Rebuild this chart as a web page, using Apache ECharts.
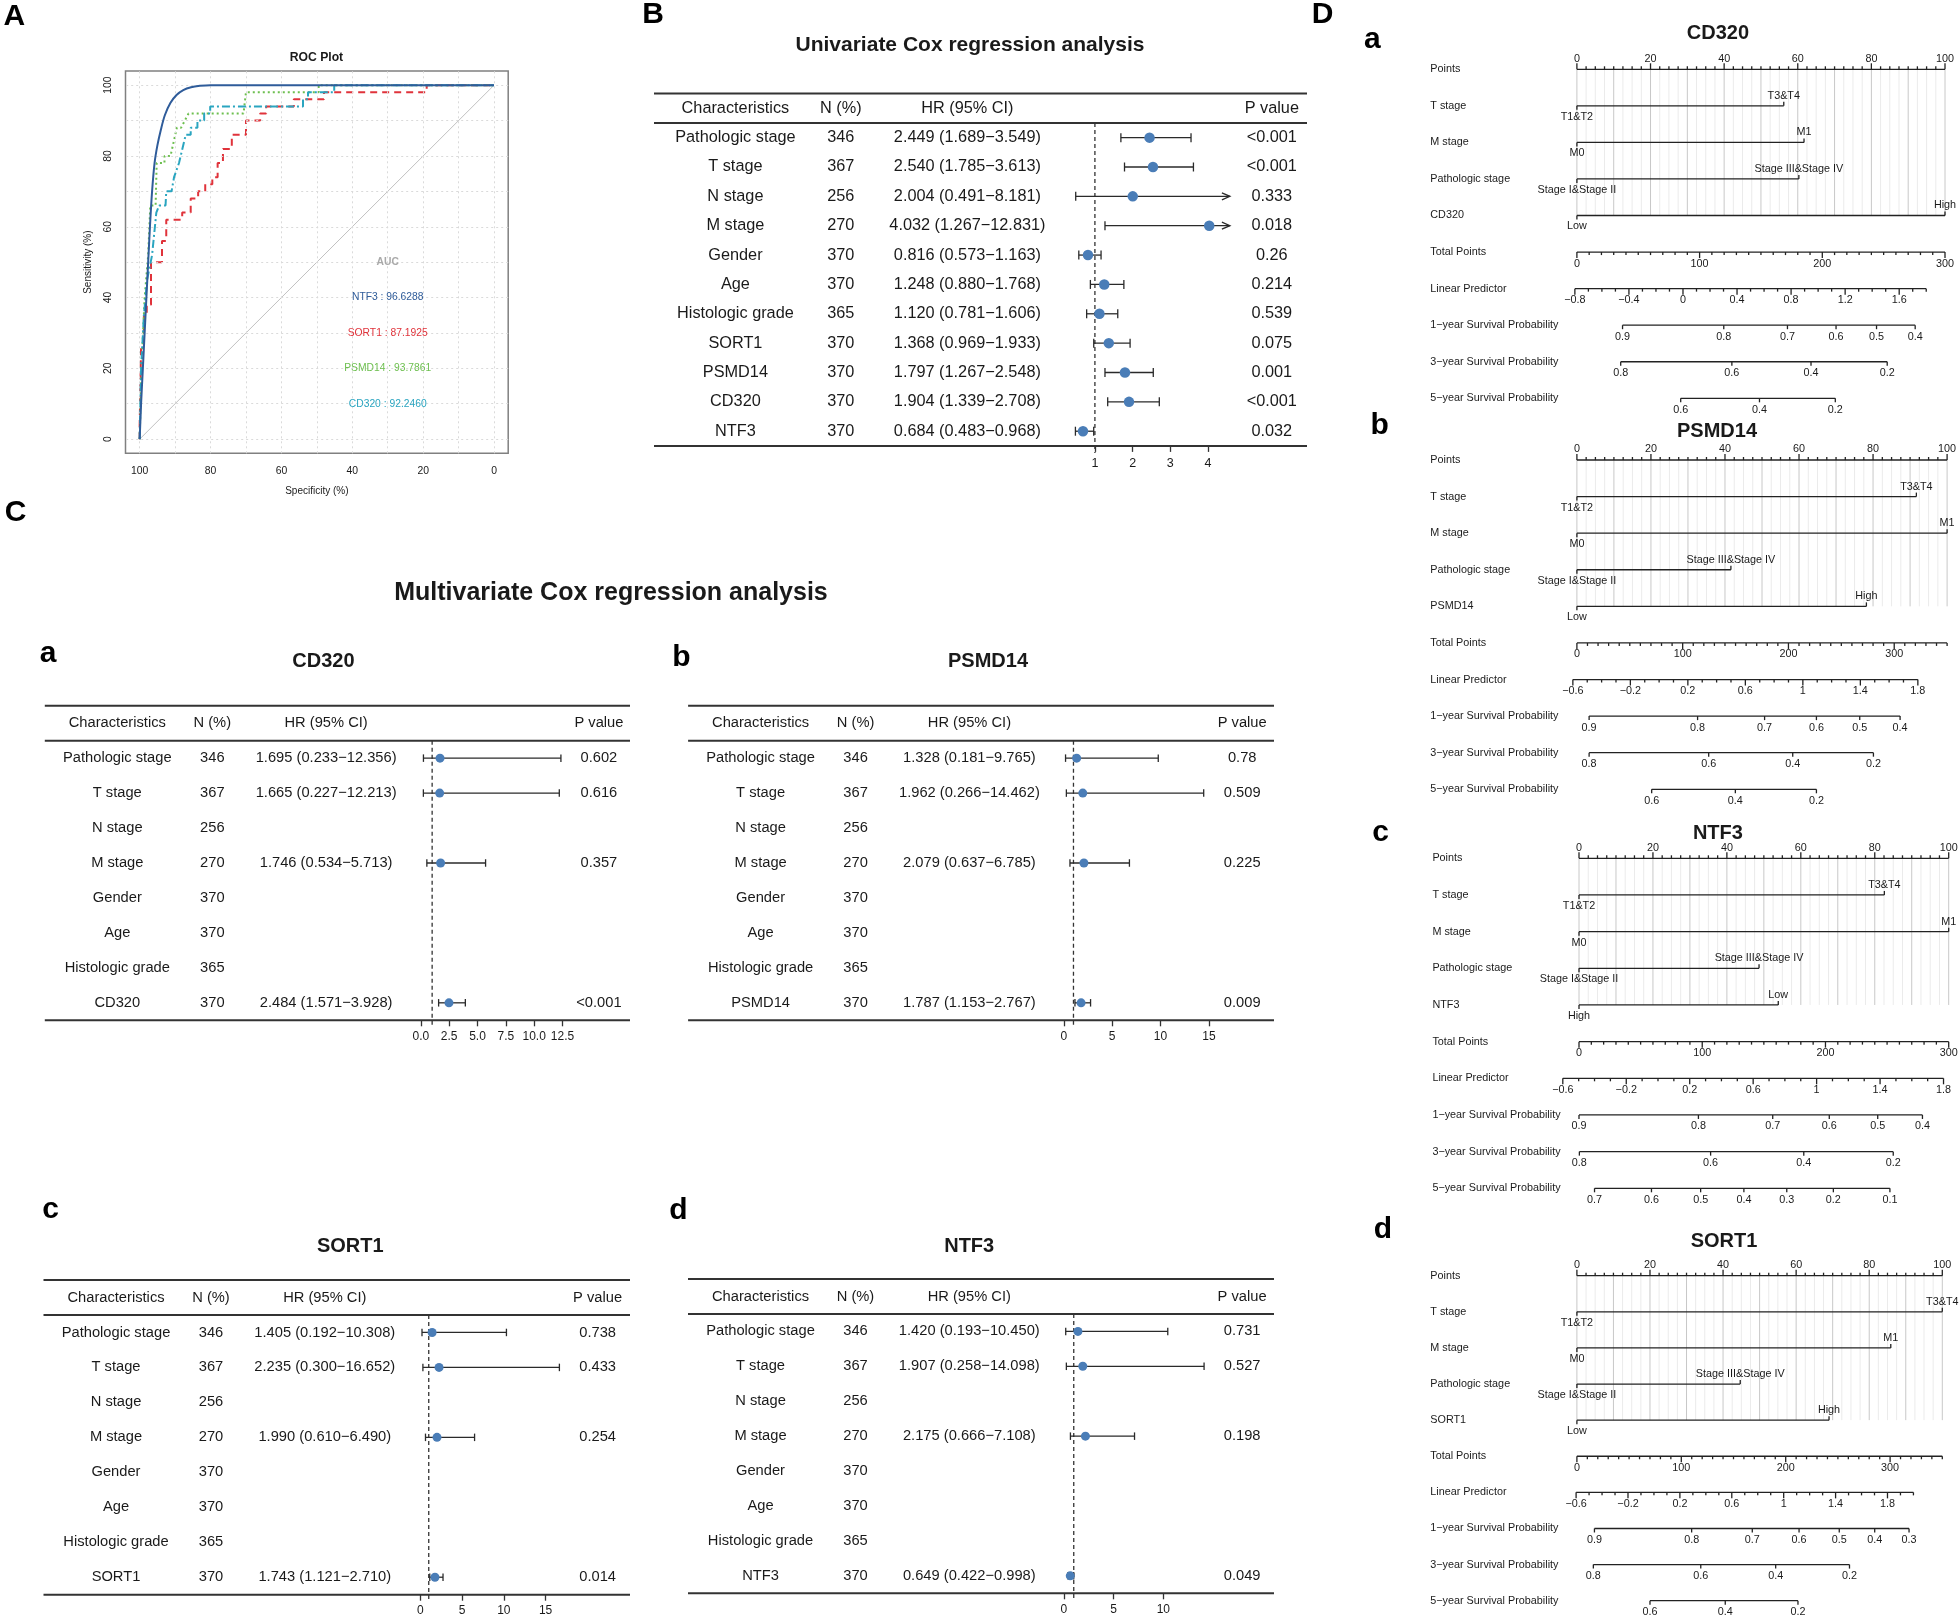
<!DOCTYPE html>
<html><head><meta charset="utf-8">
<script src="https://cdn.jsdelivr.net/npm/echarts@6/dist/echarts.min.js"></script>
<style>html,body{margin:0;padding:0;background:#fff}#c{width:1960px;height:1620px}</style>
</head><body><div id="c"></div>
<script>
// ================= DATA =================
// Panel A: ROC curves, points are [specificity %, sensitivity %]
const rocNames = ['NTF3', 'SORT1', 'PSMD14', 'CD320'];
const rocAUC = ['96.6288', '87.1925', '93.7861', '92.2460'];
const rocNTF3 = [[100,0],[99.6,10],[99.1,20],[98.6,30],[98.1,40],[97.6,50],[97.1,60],[96.5,70],[95.8,78],[95.0,83],[94.0,87.5],[92.9,91.5],[91.3,95],[89.6,97.2],[87.7,98.6],[85.5,99.4],[83,99.8],[80,100],[70,100],[0,100]];
const rocSORT1 = [[100,0],[100,4],[99.6,4],[99.6,26],[98.8,26],[98.8,35],[98,35],[98,38],[96.8,38],[96.8,50],[93.7,50],[93.7,56],[92.5,56],[92.5,62],[88,62],[88,64],[85.6,64],[85.6,68],[83.5,68],[83.5,70],[81.5,70],[81.5,72],[79.5,72],[79.5,74],[78,74],[78,78],[76.5,78],[76.5,82],[74,82],[74,86],[70,86],[70,90],[66,90],[66,92],[64.3,92],[64.3,94],[56.5,94],[56.5,96],[48,96],[48,98],[19,98],[19,100],[0,100]];
const rocPSMD14 = [[100,0],[99.5,20],[98.6,40],[97.6,52],[97,66],[95.5,66],[95.2,78],[93,78],[93,80],[91.3,80],[89.5,88],[88.3,88],[86.2,92],[70.7,92],[70,98],[49.5,98],[49.5,100],[0,100]];
const rocCD320 = [[100,0],[99.6,20],[98.8,35],[97.9,45],[96.5,52],[95.3,64],[94.5,66],[92.7,66],[92.5,70],[91,70],[90.3,74],[88.9,78],[87,86],[85.6,86],[85.6,88],[83.7,88],[83.7,90],[81.8,90],[81.8,92],[80.1,92],[80.1,94],[53.9,94],[53.9,96],[52.5,96],[52.5,98],[45.1,98],[45.1,100],[0,100]];
const rocTicks = [0, 20, 40, 60, 80, 100];
const rocGridVals = [0, 10, 20, 30, 40, 50, 60, 70, 80, 90, 100];

// Table headers
const tableHeaders = ['Characteristics', 'N (%)', 'HR (95% CI)', 'P value'];

// Panel B: univariate Cox
const uniChars = ['Pathologic stage','T stage','N stage','M stage','Gender','Age','Histologic grade','SORT1','PSMD14','CD320','NTF3'];
const uniN = [346, 367, 256, 270, 370, 370, 365, 370, 370, 370, 370];
const uniHR = [2.449, 2.540, 2.004, 4.032, 0.816, 1.248, 1.120, 1.368, 1.797, 1.904, 0.684];
const uniLo = [1.689, 1.785, 0.491, 1.267, 0.573, 0.880, 0.781, 0.969, 1.267, 1.339, 0.483];
const uniHi = [3.549, 3.613, 8.181, 12.831, 1.163, 1.768, 1.606, 1.933, 2.548, 2.708, 0.968];
const uniP = ['<0.001', '<0.001', '0.333', '0.018', '0.26', '0.214', '0.539', '0.075', '0.001', '<0.001', '0.032'];
const uniTicks = [1, 2, 3, 4];

// Panel C: multivariate Cox
const mvChars = ['Pathologic stage','T stage','N stage','M stage','Gender','Age','Histologic grade'];
const mvN = [346, 367, 256, 270, 370, 370, 365, 370];
const mvCD320HR = [1.695, 1.665, null, 1.746, null, null, null, 2.484];
const mvCD320Lo = [0.233, 0.227, null, 0.534, null, null, null, 1.571];
const mvCD320Hi = [12.356, 12.213, null, 5.713, null, null, null, 3.928];
const mvCD320P = ['0.602', '0.616', '', '0.357', '', '', '', '<0.001'];
const mvPSMD14HR = [1.328, 1.962, null, 2.079, null, null, null, 1.787];
const mvPSMD14Lo = [0.181, 0.266, null, 0.637, null, null, null, 1.153];
const mvPSMD14Hi = [9.765, 14.462, null, 6.785, null, null, null, 2.767];
const mvPSMD14P = ['0.78', '0.509', '', '0.225', '', '', '', '0.009'];
const mvSORT1HR = [1.405, 2.235, null, 1.990, null, null, null, 1.743];
const mvSORT1Lo = [0.192, 0.300, null, 0.610, null, null, null, 1.121];
const mvSORT1Hi = [10.308, 16.652, null, 6.490, null, null, null, 2.710];
const mvSORT1P = ['0.738', '0.433', '', '0.254', '', '', '', '0.014'];
const mvNTF3HR = [1.420, 1.907, null, 2.175, null, null, null, 0.649];
const mvNTF3Lo = [0.193, 0.258, null, 0.666, null, null, null, 0.422];
const mvNTF3Hi = [10.450, 14.098, null, 7.108, null, null, null, 0.998];
const mvNTF3P = ['0.731', '0.527', '', '0.198', '', '', '', '0.049'];
const mvTicksCD320 = [0, 2.5, 5, 7.5, 10, 12.5];
const mvTicksPSMD14 = [0, 5, 10, 15];
const mvTicksSORT1 = [0, 5, 10, 15];
const mvTicksNTF3 = [0, 5, 10];

// Panel D: nomograms (CD320, PSMD14, NTF3, SORT1)
const nomoGenes = ['CD320', 'PSMD14', 'NTF3', 'SORT1'];
const nomoVarNames = ['T stage', 'M stage', 'Pathologic stage'];
const nomoTLevels = ['T1&T2', 'T3&T4'];
const nomoMLevels = ['M0', 'M1'];
const nomoPathLevels = ['Stage I&Stage II', 'Stage III&Stage IV'];
const nomoGeneLevels = [['Low','High'], ['Low','High'], ['High','Low'], ['Low','High']];
const nomoTPoints = [56.2, 91.7, 82.6, 100];
const nomoMPoints = [61.7, 100, 100, 85.9];
const nomoPathPoints = [60.3, 41.6, 48.7, 44.7];
const nomoGenePoints = [100, 78.2, 53.9, 69.0];
const nomoTotalMax = [300, 350, 300, 350];
const nomoLPRange = [[-0.8, 1.8], [-0.6, 1.8], [-0.6, 1.8], [-0.6, 2.0]];
const nomoLPAtPoints = [[-0.55, 94.9], [-1.09, 92.1], [-4.38, 98.6], [-0.22, 92.1]];
const nomoLPLabels = [[-0.8,-0.4,0,0.4,0.8,1.2,1.6], [-0.6,-0.2,0.2,0.6,1,1.4,1.8], [-0.6,-0.2,0.2,0.6,1,1.4,1.8], [-0.6,-0.2,0.2,0.6,1,1.4,1.8]];
const nomoSurv1Labels = [[0.9,0.8,0.7,0.6,0.5,0.4], [0.9,0.8,0.7,0.6,0.5,0.4], [0.9,0.8,0.7,0.6,0.5,0.4], [0.9,0.8,0.7,0.6,0.5,0.4,0.3]];
const nomoSurv1Points = [[12.4,39.9,57.2,70.4,81.4,91.9], [3.3,32.6,50.7,64.7,76.4,87.3], [0,32.3,52.4,67.7,80.8,92.9], [4.8,31.4,48.0,60.8,71.8,81.5,90.9]];
const nomoSurv3Labels = [[0.8,0.6,0.4,0.2], [0.8,0.6,0.4,0.2], [0.8,0.6,0.4,0.2], [0.8,0.6,0.4,0.2]];
const nomoSurv3Points = [[11.9,42.1,63.6,84.3], [3.3,35.6,58.3,80.1], [0.1,35.6,60.8,85.0], [4.5,33.9,54.4,74.6]];
const nomoSurv5Labels = [[0.6,0.4,0.2], [0.6,0.4,0.2], [0.7,0.6,0.5,0.4,0.3,0.2,0.1], [0.6,0.4,0.2]];
const nomoSurv5Points = [[28.2,49.6,70.2], [20.2,42.8,64.7], [4.2,19.6,32.9,44.6,56.2,68.8,84.1], [20.0,40.6,60.5]];

// ================= BUILD =================
const FONT = "'Liberation Sans', Arial, Helvetica, sans-serif";
const INK = '#1a1a1a';
const LINE = '#2a2a2a';
const DOT = '#4a7db7';
const grids = [], xAxes = [], yAxes = [], series = [], graphics = [];

function addGrid(g, xa, ya) {
  const i = grids.length;
  grids.push(Object.assign({containLabel: false, outerBoundsMode: 'none'}, g));
  xa.gridIndex = i; ya.gridIndex = i;
  xAxes.push(xa); yAxes.push(ya);
  return i;
}
function ts(t, size, extra) {
  return Object.assign({text: t, fontSize: size, fontFamily: FONT, fill: INK,
    align: 'center', verticalAlign: 'middle', textAlign: 'center', textVerticalAlign: 'middle'}, extra || {});
}
function gtext(t, x, y, size, extra) {
  graphics.push({type: 'text', x: x, y: y, silent: true, z: 100, style: ts(t, size, extra)});
}
const minus = v => String(v).replace('-', '\u2212');

// ---------- Panel A: ROC ----------
const rocGi = addGrid(
  {left: 125.5, top: 71, width: 382.7, height: 382.3, show: true, borderColor: '#808080', borderWidth: 1.5, backgroundColor: 'rgba(0,0,0,0)'},
  {type: 'value', min: -4, max: 104, inverse: true, splitLine: {show: false}, axisLine: {show: false, onZero: false}, axisTick: {show: false},
   axisLabel: {customValues: rocTicks, fontSize: 10.4, color: INK, fontFamily: FONT, margin: 13},
   name: 'Specificity (%)', nameLocation: 'middle', nameGap: 33, nameTextStyle: {fontSize: 10, color: INK, fontFamily: FONT}},
  {type: 'value', min: -4, max: 104, splitLine: {show: false}, axisLine: {show: false, onZero: false}, axisTick: {show: false},
   axisLabel: {customValues: rocTicks, rotate: 90, fontSize: 10.4, color: INK, fontFamily: FONT, margin: 12},
   name: 'Sensitivity (%)', nameLocation: 'middle', nameGap: 32, nameRotate: 90, nameTextStyle: {fontSize: 10, color: INK, fontFamily: FONT}}
);
series.push({type: 'line', xAxisIndex: rocGi, yAxisIndex: rocGi, data: [[100, 0], [0, 100]], symbol: 'none', silent: true, z: 1,
  lineStyle: {color: '#c2c2c2', width: 1},
  markLine: {symbol: 'none', silent: true, label: {show: false}, lineStyle: {color: '#dadada', type: [2, 3], width: 1},
    data: rocGridVals.map(v => ({xAxis: v})).concat(rocGridVals.map(v => ({yAxis: v})))}});
const rocData = [rocNTF3, rocSORT1, rocPSMD14, rocCD320];
const rocColors = ['#2f5c9a', '#e0333b', '#6dbf4f', '#2aa5c0'];
const rocDash = ['solid', [7, 5], [2, 3], [8, 3, 2, 3]];
const rocZ = [6, 3, 4, 5];
rocData.forEach((d, i) => series.push({type: 'line', xAxisIndex: rocGi, yAxisIndex: rocGi, data: d, symbol: 'none', silent: true,
  smooth: i === 0 ? 0.3 : false, z: rocZ[i], lineStyle: {color: rocColors[i], width: 2, type: rocDash[i]}}));
// AUC text block placed in data space
const aucRows = ['AUC'].concat(rocNames.map((n, i) => n + ' : ' + rocAUC[i]));
series.push({type: 'custom', xAxisIndex: rocGi, yAxisIndex: rocGi, silent: true, z: 7,
  data: aucRows.map((_, i) => [30, 50 - 10 * i]),
  renderItem: (params, api) => {
    const i = params.dataIndex;
    const p = api.coord([api.value(0), api.value(1)]);
    const col = i === 0 ? '#a9a9a9' : rocColors[i - 1];
    return {type: 'text', x: p[0], y: p[1], style: ts(aucRows[i], 10.3, {fill: col, fontWeight: i === 0 ? 'bold' : 'normal'})};
  }});

// ---------- Forest table builder ----------
function buildForest(o) {
  const n = o.chars.length;
  const yMin = -1.5, yMax = n - 0.5;
  const height = o.bottom - o.top;
  const yAx = () => ({type: 'value', min: yMin, max: yMax, inverse: true, show: false, axisLine: {onZero: false}});
  const tg = addGrid({left: o.left, top: o.top, width: o.width, height: height},
    {type: 'value', min: 0, max: o.width, show: false, axisLine: {onZero: false}}, yAx());
  // table rules
  series.push({type: 'custom', xAxisIndex: tg, yAxisIndex: tg, silent: true, z: 2,
    data: [[0, -1.5], [0, -0.5], [0, n - 0.5]],
    renderItem: (params, api) => {
      const a = api.coord([0, api.value(1)]), b = api.coord([o.width, api.value(1)]);
      return {type: 'line', shape: {x1: a[0], y1: a[1], x2: b[0], y2: b[1]}, style: {stroke: '#333', lineWidth: 2}};
    }});
  // table text
  const rows = [tableHeaders].concat(o.chars.map((c, i) => [c, String(o.N[i]),
    o.hr[i] == null ? '' : o.hr[i].toFixed(3) + ' (' + o.lo[i].toFixed(3) + '\u2212' + o.hi[i].toFixed(3) + ')', o.p[i]]));
  series.push({type: 'custom', xAxisIndex: tg, yAxisIndex: tg, silent: true, z: 3,
    data: rows.map((_, i) => [0, i - 1]),
    renderItem: (params, api) => {
      const r = rows[params.dataIndex], y = api.value(1);
      return {type: 'group', children: r.map((t, c) => {
        const p = api.coord([o.cols[c], y]);
        return {type: 'text', x: p[0], y: p[1], style: ts(t, o.font)};
      })};
    }});
  // forest grid
  const f = o.fx;
  const fg = addGrid({left: f.left, top: o.top, width: f.width, height: height},
    {type: 'value', min: f.min, max: f.max, position: 'bottom', splitLine: {show: false}, axisLine: {show: false, onZero: false},
     axisTick: {show: true, customValues: f.ticks, length: 6, lineStyle: {color: '#333', width: 1.3}},
     axisLabel: {customValues: f.ticks, formatter: f.fmt, fontSize: f.fs, color: INK, fontFamily: FONT, margin: f.margin}},
    yAx());
  // reference line at HR = 1
  series.push({type: 'custom', xAxisIndex: fg, yAxisIndex: fg, silent: true, z: 2,
    data: [[1, -0.5]],
    renderItem: (params, api) => {
      const a = api.coord([1, -0.5]), b = api.coord([1, n - 0.5]);
      return {type: 'line', shape: {x1: a[0], y1: a[1], x2: b[0], y2: b[1] + o.ext}, style: {stroke: '#333', lineWidth: 1.3, lineDash: [4, 3]}};
    }});
  // CI whiskers
  const ci = [];
  o.hr.forEach((h, i) => { if (h != null) ci.push([o.lo[i], o.hi[i], i]); });
  series.push({type: 'custom', xAxisIndex: fg, yAxisIndex: fg, silent: true, z: 4, data: ci,
    renderItem: (params, api) => {
      const lo = api.value(0), hi = api.value(1), r = api.value(2);
      const clipped = hi > f.max;
      const a = api.coord([Math.max(lo, f.min), r]), b = api.coord([Math.min(hi, f.max), r]);
      const st = {stroke: LINE, lineWidth: 1.3, fill: null};
      const h2 = o.cap / 2;
      const ch = [
        {type: 'line', shape: {x1: a[0], y1: a[1], x2: b[0], y2: b[1]}, style: st},
        {type: 'line', shape: {x1: a[0], y1: a[1] - h2, x2: a[0], y2: a[1] + h2}, style: st}
      ];
      if (clipped) ch.push({type: 'polyline', shape: {points: [[b[0] - 8, b[1] - 3.5], [b[0], b[1]], [b[0] - 8, b[1] + 3.5]]}, style: st});
      else ch.push({type: 'line', shape: {x1: b[0], y1: b[1] - h2, x2: b[0], y2: b[1] + h2}, style: st});
      return {type: 'group', children: ch};
    }});
  // point estimates
  series.push({type: 'scatter', xAxisIndex: fg, yAxisIndex: fg, silent: true, z: 5, symbolSize: o.dot,
    itemStyle: {color: DOT, opacity: 1},
    data: o.hr.map((h, i) => h == null ? null : [h, i]).filter(d => d)});
}

// Panel B
buildForest({left: 654, width: 653, top: 93.6, bottom: 445.9, cols: [81.4, 186.8, 313.4, 617.8], font: 16.3,
  chars: uniChars, N: uniN, hr: uniHR, lo: uniLo, hi: uniHi, p: uniP, dot: 10.5, cap: 9, ext: 7,
  fx: {left: 1057.2, width: 172.7, min: 0, max: 4.58, ticks: uniTicks, fmt: v => String(v), fs: 12.5, margin: 11}});

// Panel C
const C_COLS = [72.5, 167.5, 281.3, 554.1];
const fmt1 = v => (+v).toFixed(1);
const fmt0 = v => String(v);
buildForest({left: 44.8, width: 585.2, top: 705.7, bottom: 1020.3, cols: C_COLS, font: 14.7,
  chars: mvChars.concat(['CD320']), N: mvN, hr: mvCD320HR, lo: mvCD320Lo, hi: mvCD320Hi, p: mvCD320P, dot: 9, cap: 7.5, ext: 5,
  fx: {left: 420.8, width: 141.75, min: 0, max: 12.5, ticks: mvTicksCD320, fmt: fmt1, fs: 12, margin: 10}});
buildForest({left: 688.1, width: 585.9, top: 705.7, bottom: 1020.3, cols: C_COLS, font: 14.7,
  chars: mvChars.concat(['PSMD14']), N: mvN, hr: mvPSMD14HR, lo: mvPSMD14Lo, hi: mvPSMD14Hi, p: mvPSMD14P, dot: 9, cap: 7.5, ext: 5,
  fx: {left: 1063.8, width: 145.1, min: 0, max: 15, ticks: mvTicksPSMD14, fmt: fmt0, fs: 12, margin: 10}});
buildForest({left: 43.5, width: 586.5, top: 1280, bottom: 1594.7, cols: C_COLS, font: 14.7,
  chars: mvChars.concat(['SORT1']), N: mvN, hr: mvSORT1HR, lo: mvSORT1Lo, hi: mvSORT1Hi, p: mvSORT1P, dot: 9, cap: 7.5, ext: 5,
  fx: {left: 420.4, width: 141.9, min: 0, max: 17, ticks: mvTicksSORT1, fmt: fmt0, fs: 12, margin: 10}});
buildForest({left: 688, width: 586, top: 1279, bottom: 1593.3, cols: C_COLS, font: 14.7,
  chars: mvChars.concat(['NTF3']), N: mvN, hr: mvNTF3HR, lo: mvNTF3Lo, hi: mvNTF3Hi, p: mvNTF3P, dot: 9, cap: 7.5, ext: 5,
  fx: {left: 1063.8, width: 149.25, min: 0, max: 15, ticks: mvTicksNTF3, fmt: fmt0, fs: 12, margin: 10}});

// ---------- Panel D: nomograms ----------
const NF = 10.8;
const nomoBoxes = [
  {left: 1576.9, right: 1945.0, top: 69.3, bottom: 398.3},
  {left: 1576.9, right: 1947.1, top: 460.0, bottom: 789.3},
  {left: 1579.0, right: 1948.7, top: 858.3, bottom: 1188.3},
  {left: 1576.9, right: 1942.3, top: 1275.7, bottom: 1600.7}
];
function buildNomo(k) {
  const b = nomoBoxes[k];
  const gi = addGrid({left: b.left, top: b.top, width: b.right - b.left, height: b.bottom - b.top},
    {type: 'value', min: 0, max: 100, show: false, axisLine: {onZero: false}},
    {type: 'value', min: 0, max: 9, inverse: true, show: false, axisLine: {onZero: false}});
  const gene = nomoGenes[k];
  const rowLabels = ['Points'].concat(nomoVarNames, [gene, 'Total Points', 'Linear Predictor',
    '1\u2212year Survival Probability', '3\u2212year Survival Probability', '5\u2212year Survival Probability']);
  const levels = [nomoTLevels, nomoMLevels, nomoPathLevels, nomoGeneLevels[k]];
  const levelPts = [nomoTPoints[k], nomoMPoints[k], nomoPathPoints[k], nomoGenePoints[k]];
  const survL = [nomoSurv1Labels[k], nomoSurv3Labels[k], nomoSurv5Labels[k]];
  const survP = [nomoSurv1Points[k], nomoSurv3Points[k], nomoSurv5Points[k]];
  series.push({type: 'custom', xAxisIndex: gi, yAxisIndex: gi, silent: true, z: 3,
    data: rowLabels.map((_, r) => [0, r]),
    renderItem: (params, api) => {
      const r = params.dataIndex;
      const y = api.coord([0, r])[1];
      const X = v => api.coord([v, r])[0];
      const ch = [];
      const ln = (x1, y1, x2, y2, c, w) => ch.push({type: 'line', shape: {x1, y1, x2, y2}, style: {stroke: c || '#222', lineWidth: w || 1.3}});
      const tx = (t, x, yy, al) => ch.push({type: 'text', x: x, y: yy, style: ts(t, NF, al ? {align: al, textAlign: al} : {})});
      tx(rowLabels[r], X(0) - 146.6, y, 'left');
      if (r === 0) {
        const y4 = api.coord([0, 4])[1];
        for (let v = 0; v <= 100; v += 2.5) ln(X(v), y, X(v), y4, v % 10 === 0 ? '#c8c8c8' : '#ebebeb', 1);
        ln(X(0), y, X(100), y);
        for (let v = 0; v <= 100; v += 2.5) ln(X(v), y, X(v), y - (v % 20 === 0 ? 6 : 3));
        for (let v = 0; v <= 100; v += 20) tx(String(v), X(v), y - 10.5);
      } else if (r <= 4) {
        const lv = levels[r - 1], p1 = levelPts[r - 1];
        ln(X(0), y, X(p1), y);
        ln(X(0), y, X(0), y + 4);
        ln(X(p1), y, X(p1), y - 4);
        tx(lv[0], X(0), y + 11);
        tx(lv[1], X(p1), y - 10);
      } else if (r === 5) {
        const T = nomoTotalMax[k];
        ln(X(0), y, X(100), y);
        for (let t = 0; t <= T; t += 10) {
          const xx = X(t / T * 100);
          ln(xx, y, xx, y + (t % 100 === 0 ? 6 : 3));
          if (t % 100 === 0) tx(String(t), xx, y + 11.5);
        }
      } else if (r === 6) {
        const a = nomoLPRange[k][0], bb = nomoLPRange[k][1];
        const pa = nomoLPAtPoints[k][0], pb = nomoLPAtPoints[k][1];
        const toP = v => pa + (v - a) / (bb - a) * (pb - pa);
        ln(X(pa), y, X(pb), y);
        const nT = Math.round((bb - a) / 0.1);
        for (let i = 0; i <= nT; i++) {
          const v = a + i * 0.1;
          const major = nomoLPLabels[k].some(l => Math.abs(l - v) < 1e-6);
          ln(X(toP(v)), y, X(toP(v)), y + (major ? 6 : 3));
        }
        nomoLPLabels[k].forEach(l => tx(minus(l), X(toP(l)), y + 11.5));
      } else {
        const L = survL[r - 7], Pp = survP[r - 7];
        ln(X(Pp[0]), y, X(Pp[Pp.length - 1]), y);
        Pp.forEach((p, i) => { ln(X(p), y, X(p), y + 4); tx(String(L[i]), X(p), y + 11.5); });
      }
      return {type: 'group', children: ch};
    }});
}
[0, 1, 2, 3].forEach(buildNomo);

// ---------- Titles and panel letters ----------
const bold = {fontWeight: 'bold'};
gtext('ROC Plot', 316.4, 57.7, 12.2, bold);
gtext('Univariate Cox regression analysis', 970, 45, 21, bold);
gtext('Multivariate Cox regression analysis', 611, 593, 25, bold);
gtext('CD320', 323.4, 661.7, 20, bold);
gtext('PSMD14', 988, 661.7, 20, bold);
gtext('SORT1', 350.3, 1246.7, 20, bold);
gtext('NTF3', 969.2, 1246.7, 20, bold);
const nomoTitlePos = [[1717.9, 33.3], [1717, 431], [1717.9, 833.3], [1724, 1241.7]];
nomoGenes.forEach((g, i) => gtext(g, nomoTitlePos[i][0], nomoTitlePos[i][1], 20, bold));
const letters = [['A', 14.3, 16.7], ['B', 653, 15], ['C', 15.5, 512.5], ['D', 1322.5, 14.5],
  ['a', 48, 653.5], ['b', 681.5, 657.5], ['c', 50.7, 1209.5], ['d', 678.3, 1211.2],
  ['a', 1372.3, 39.5], ['b', 1379.7, 426.2], ['c', 1380.7, 832.5], ['d', 1382.9, 1229.5]];
letters.forEach(l => gtext(l[0], l[1], l[2], 30, {fontWeight: 'bold', fill: '#000'}));

const chart = echarts.init(document.getElementById('c'), null, {renderer: 'canvas', width: 1960, height: 1620});
chart.setOption({animation: false, backgroundColor: '#ffffff', textStyle: {fontFamily: FONT},
  grid: grids, xAxis: xAxes, yAxis: yAxes, series: series, graphic: {elements: graphics}});
</script></body></html>
